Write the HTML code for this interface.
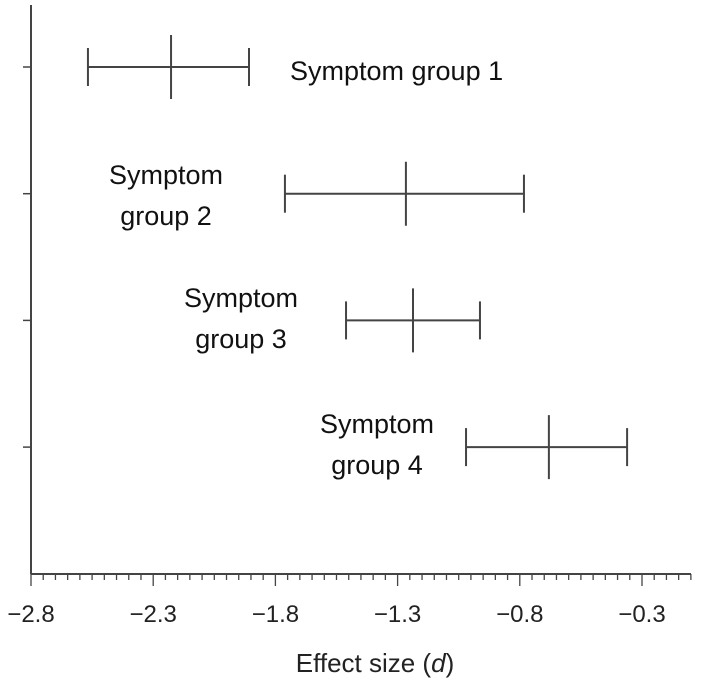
<!DOCTYPE html>
<html><head><meta charset="utf-8"><style>
html,body{margin:0;padding:0;background:#fff;}
svg{display:block;font-family:"Liberation Sans",sans-serif;}
</style></head><body>
<svg id="chart" width="706" height="682"></svg>
<script>
const groups = ["Symptom group 1","Symptom group 2","Symptom group 3","Symptom group 4"];
const lows = [-2.567,-1.761,-1.511,-1.020];
const mids = [-2.227,-1.266,-1.237,-0.681];
const highs = [-1.908,-0.783,-0.963,-0.361];
const tickLabels = ["−2.8","−2.3","−1.8","−1.3","−0.8","−0.3"];
const tickValues = [-2.8,-2.3,-1.8,-1.3,-0.8,-0.3];

const NS="http://www.w3.org/2000/svg";
const svg=document.getElementById('chart');
const x0=31, axisY=574, scale=244.4;
const xs=v=>x0+(v+2.8)*scale;
const ys=i=>67+i*126.7;
function el(tag,attrs,parent){const e=document.createElementNS(NS,tag);for(const k in attrs)e.setAttribute(k,attrs[k]);(parent||svg).appendChild(e);return e;}
const stroke="#444";
let a=el('line',{x1:x0,y1:5,x2:x0,y2:axisY,stroke:stroke,'stroke-width':2});


a=el('line',{x1:x0,y1:axisY,x2:691,y2:axisY,stroke:stroke,'stroke-width':2});


for(let k=0;k<=54;k++){
  const v=-2.8+k*0.05, px=xs(v);
  if(px>691)break;
  const major=(k%10===0);
  const t=el('line',{x1:px,y1:axisY,x2:px,y2:axisY+(major?12:6),stroke:stroke,'stroke-width':1.3});
  
  
}
tickValues.forEach((v,i)=>{
  const t=el('text',{x:xs(v),y:622,'text-anchor':'middle','font-size':24,fill:'#222'});
  t.textContent=tickLabels[i];
  
  
});
const title=el('text',{x:375,y:672,'text-anchor':'middle','font-size':26,fill:'#222'});
title.innerHTML='Effect size (<tspan font-style="italic">d</tspan>)';


const labelPos=[[290,[80]],[166,[184,225]],[241,[307,348]],[377,[433,474]]];
groups.forEach((g,i)=>{
  const y=ys(i);
  const yt=el('line',{x1:23,y1:y,x2:x0,y2:y,stroke:stroke,'stroke-width':1.5});
  
  
  const gg=el('g',{});
  
  
  el('line',{x1:xs(lows[i]),y1:y,x2:xs(highs[i]),y2:y,stroke:stroke,'stroke-width':2},gg);
  el('line',{x1:xs(lows[i]),y1:y-19,x2:xs(lows[i]),y2:y+19,stroke:stroke,'stroke-width':2},gg);
  el('line',{x1:xs(highs[i]),y1:y-19,x2:xs(highs[i]),y2:y+19,stroke:stroke,'stroke-width':2},gg);
  el('line',{x1:xs(mids[i]),y1:y-32,x2:xs(mids[i]),y2:y+32,stroke:stroke,'stroke-width':2},gg);
  const [lx,lys]=labelPos[i];
  const t=el('text',{x:lx,y:lys[0],'text-anchor':i===0?'start':'middle','font-size':27,fill:'#111'});
  if(i===0){t.textContent=g;}
  else{
    const s1=el('tspan',{x:lx,y:lys[0]},t);s1.textContent='Symptom';
    const s2=el('tspan',{x:lx,y:lys[1]},t);s2.textContent='group '+(i+1);
  }
  
  
});
</script>
</body></html>
